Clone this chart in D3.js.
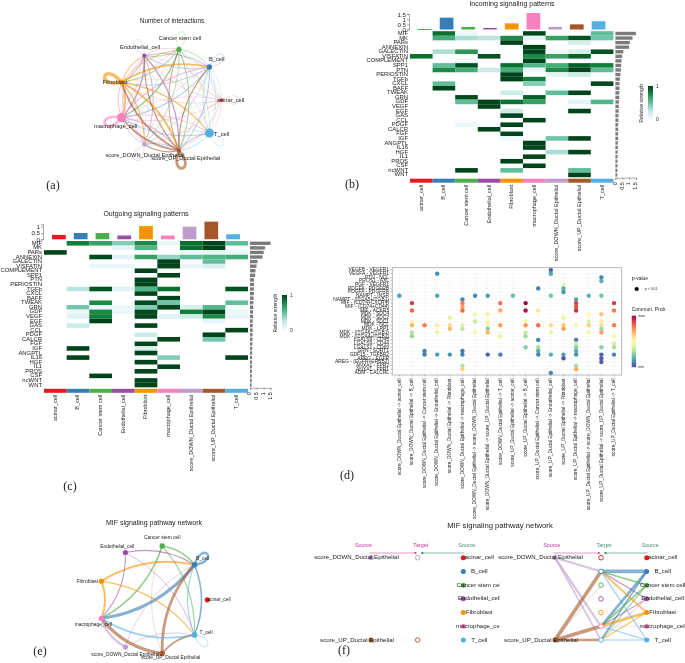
<!DOCTYPE html>
<html><head><meta charset="utf-8">
<script src="https://cdn.jsdelivr.net/npm/d3@7"></script>
<style>html,body{margin:0;padding:0;background:#fff}svg{display:block;filter:blur(.3px)}text{font-family:"Liberation Sans",Arial,sans-serif;fill:#222}</style>
</head><body><svg id="c" width="685" height="663"></svg>
<script>
const cellTypes=["acinar_cell","B_cell","Cancer stem cell","Endothelial_cell","Fibroblast","macrophage_cell","score_DOWN_Ductal Epithelial","score_UP_Ductal Epithelial","T_cell"];
const cellColors=["#E41A1C","#377EB8","#4DAF4A","#984EA3","#F29403","#F781BF","#BC9DCC","#A65628","#54B0E4"];
const pathways=["MIF","MK","PARs","ANNEXIN","GALECTIN","VISFATIN","COMPLEMENT","SPP1","PTN","PERIOSTIN","TGFb","CXCL","BAFF","TWEAK","GRN","GDF","VEGF","EGF","GAS","CCL","PDGF","CALCR","FGF","IGF","ANGPTL","IL16","HGF","IL1","PROS","CSF","ncWNT","WNT"];

const incomingMatrix=[
[0,.85,.03,0,0,1,0,0,.5],[0,.6,.3,.25,.75,.05,.65,.95,.45],[0,0,0,0,1,0,0,.15,0],[0,0,0,0,0,1,0,0,0],
[0,.3,.7,0,0,1,.03,.15,.95],[.85,0,0,.95,0,.75,.65,.9,0],[0,0,.02,0,0,1,0,0,0],[0,.5,.95,0,.85,.55,.6,.9,.8],
[0,.75,.6,.2,.6,.03,.75,1,.5],[0,0,0,0,1,0,.08,.2,0],[0,0,0,0,1,.8,0,0,0],[0,.5,0,0,0,.4,0,0,.98],
[0,1,0,0,0,0,0,0,0],[0,0,0,0,.2,0,.5,1,0],[0,0,.98,0,0,.9,0,0,0],[0,0,.5,1,.85,.65,0,.1,.55],
[0,0,0,1,0,0,0,0,0],[0,0,0,0,.2,0,0,1,0],[0,0,0,0,1,0,0,0,0],[0,0,0,0,0,1,0,0,0],
[0,0,.03,0,1,0,0,0,0],[0,0,0,1,0,0,0,0,0],[0,0,0,0,1,0,0,0,0],[0,0,0,0,.01,0,.45,1,0],
[0,0,0,0,0,1,0,0,0],[0,0,0,0,0,1,0,0,0],[0,0,0,0,0,0,.3,1,0],[0,0,0,0,0,1,0,0,0],
[0,0,0,0,1,0,0,0,0],[0,0,0,0,0,1,0,0,0],[0,0,1,0,.5,0,0,.5,0],[0,0,0,0,0,0,0,1,0]];
const incomingTop=[.03,1.15,.25,.15,.6,1.6,.25,.5,.8];
const incomingRight=[1.5,1.25,1.05,1,.58,.5,.45,.42,.4,.37,.33,.3,.3,.28,.28,.26,.25,.24,.22,.22,.2,.2,.2,.2,.18,.18,.16,.16,.15,.15,.15,.14];

const outgoingMatrix=[
[0,.8,.65,.4,.75,.03,.85,1,.5],[0,0,0,.07,.55,0,.85,1,0],[1,0,0,0,0,0,.02,.04,.03],[0,0,.98,.1,.65,.35,.5,.55,.6],
[0,0,0,0,0,1,0,.5,0],[0,0,.03,.05,0,1,.05,.15,0],[0,0,0,0,1,0,0,0,0],[0,0,0,0,0,1,0,0,0],
[0,0,0,0,1,0,0,0,0],[0,0,0,0,1,0,0,0,0],[0,.25,.95,.1,.55,.85,0,0,.95],[0,0,0,0,1,0,0,0,0],
[0,0,0,0,0,1,0,0,0],[0,0,.75,0,.98,.45,0,0,.5],[0,.45,.05,.03,.4,1,.15,.55,0],[0,.03,.75,.03,.98,0,.8,1,.03],
[0,.1,.8,0,1,.1,.2,.75,.05],[0,0,1,0,0,0,0,.05,0],[0,.2,0,0,1,0,0,0,0],[0,0,0,0,0,0,0,0,1],
[0,0,0,0,.2,0,0,1,0],[0,0,0,0,0,1,0,.45,0],[0,0,0,0,1,0,0,0,0],[0,1,0,0,.15,0,0,0,0],
[0,0,0,0,1,0,0,0,0],[0,1,0,0,0,.4,0,0,1],[0,0,0,0,1,0,0,0,0],[0,0,0,0,0,1,0,0,0],
[0,0,0,0,1,0,0,0,0],[0,0,1,0,0,0,0,0,0],[0,0,0,0,1,0,0,0,0],[0,0,0,0,1,0,0,0,0]];
const outgoingTop=[.35,.5,.5,.3,1.05,.3,1,1.4,.4];
const outgoingRight=[1.5,1.1,1,.92,.55,.48,.4,.38,.3,.3,.28,.28,.26,.25,.24,.22,.22,.2,.2,.2,.18,.18,.17,.16,.16,.15,.15,.14,.14,.13,.13,.12];

const ligandReceptors=["VEGFB - VEGFR1","VEGFA - VEGFR1","PTN - NCL","PROS1 - AXL","PGF - VEGFR1","PDGFA - PDGFRB","PDGFA - PDGFRA","NAMPT - INSR","NAMPT - (ITGA5+ITGB1)","MIF - (CD74+CXCR4)","MIF - (CD74+CD44)","MIF - ACKR3","MDK - SDC4","MDK - SDC2","MDK - SDC1","MDK - NCL","MDK - LRP1","MDK - (ITGA6+ITGB1)","MDK - (ITGA4+ITGB1)","LGALS9 - CD45","LGALS9 - CD44","LGALS1 - CD69","GRN - SORT1","GDF15 - TGFBR2","AREG - EGFR","AREG - (EGFR+ERBB2)","ANXA1 - FPR2","ANXA1 - FPR1","ADM - CALCRL"];
const cellPairs=[6,7].flatMap(s=>cellTypes.map(t=>cellTypes[s]+" -> "+t));
/* [row, column, communication probability 0..1] */
const dotData=[[1,3,.12],[0,12,.05],[1,12,.15],[2,16,.1],[3,16,.17],[4,13,.42],[5,13,.17],[6,13,.12],[5,11,.08],
[7,0,.14],[7,3,.15],[7,6,.1],[7,7,.14],[7,9,.2],[7,12,.22],[7,15,.18],[7,16,.22],[8,5,.1],[8,14,.15],
[9,1,.9],[9,5,.78],[9,8,.8],[9,10,1],[9,14,.9],[9,17,.9],[10,5,.72],[10,14,.85],
[11,1,.82],[11,5,.8],[11,8,.7],[11,10,.97],[11,11,.58],[11,14,.92],[11,17,.78],
[12,6,.45],[12,7,.55],[12,15,.5],[12,16,.65],[13,4,.4],[13,13,.42],
[14,1,.5],[14,6,.35],[14,7,.52],[14,10,.52],[14,15,.4],[14,16,.55],
[15,1,.68],[15,2,.78],[15,3,.55],[15,4,.6],[15,5,.42],[15,7,.55],[15,8,.72],[15,10,.73],[15,11,.8],[15,12,.6],[15,13,.65],[15,14,.45],[15,15,.62],[15,16,.6],[15,17,.78],
[16,4,.68],[16,5,.33],[16,7,.25],[16,13,.72],[16,16,.28],
[17,1,.32],[17,3,.42],[17,6,.45],[17,7,.68],[17,10,.35],[17,12,.42],[17,15,.45],[17,16,.72],
[18,1,.28],[18,8,.42],[18,10,.3],[18,17,.45],[19,11,.1],[19,14,.08],[20,14,.38],[20,17,.38],
[21,10,.25],[21,11,.3],[21,14,.25],[21,16,.25],[21,17,.3],[22,2,.08],[22,5,.08],[22,11,.17],[22,14,.17],
[23,2,.08],[23,3,.14],[23,4,.12],[23,5,.1],[23,7,.03],[23,8,.08],[23,11,.1],[23,12,.17],[23,13,.15],[23,14,.12],[23,16,.03],[23,17,.1],
[24,13,0],[24,16,.03],[25,16,.03],[26,5,.32],[26,14,.3],[27,5,.62],[27,14,.7],[28,12,.1]];

const interactionWeights=[
[.03,.05,.05,.05,.05,.1,.05,.1,.1],[.1,.15,.15,.2,.2,.3,.15,.25,.1],[.08,.25,.15,.3,.35,.5,.25,.35,.12],
[.08,.25,.15,.12,.35,.45,.25,.45,.08],[.12,.7,.35,.4,1.35,.7,.45,.8,.45],[.15,.4,.25,.25,.35,1,.3,.4,.25],
[.08,.2,.15,.2,.25,.35,.25,.4,.12],[.15,.45,.35,.45,.65,.65,.45,1.1,.25],[.08,.2,.08,.08,.15,.35,.12,.25,.15]];
const interactionNodeSize=[1.6,2.6,2.6,2,2.6,4.7,2,2,4.5];

/* [source, target, weight] for MIF */
const mifEdges=[[1,1,.75],[1,5,1],[1,8,.5],[2,1,.5],[2,5,.5],[2,8,.33],[3,1,.33],[3,5,.33],[3,8,.2],[4,1,.65],[4,5,.65],[4,8,.33],[5,5,.1],[6,1,.25],[6,5,.7],[6,8,.25],[7,1,.85],[7,5,1],[7,8,.5],[7,2,.1],[8,1,.33],[8,5,.5],[8,8,.2]];
const mifNodeSize=[2.6,2.8,2.7,2.6,2.6,2.6,2.6,2.7,2.8];

const svg=d3.select("#c");
function txt(g,x,y,s,size,opt={}){
  const t=g.append("text").attr("x",x).attr("y",y).attr("font-size",size).attr("text-anchor",opt.anchor||"middle").attr("dominant-baseline","middle").text(s);
  if(opt.rot!=null)t.attr("transform",`rotate(${opt.rot} ${x} ${y})`);
  if(opt.color)t.style("fill",opt.color);
  if(opt.serif)t.style("font-family",'"Liberation Serif",serif');
  return t;
}
// gradients
const defs=svg.append("defs");
function gradient(id,fn){
  const g=defs.append("linearGradient").attr("id",id).attr("x1",0).attr("x2",0).attr("y1",1).attr("y2",0);
  d3.range(0,1.001,.1).forEach(v=>g.append("stop").attr("offset",v).attr("stop-color",fn(v)));
}
gradient("gBuGn",v=>v==0?"#fff":d3.interpolateBuGn(v));
gradient("gSpec",v=>d3.interpolateSpectral(1-v));

function heat(o){
  const g=svg.append("g");
  const x=d3.scaleBand().domain(cellTypes).range([o.x0,o.x1]);
  const y=d3.scaleBand().domain(pathways).range([o.y0,o.y1]);
  const col=v=>d3.interpolateBuGn(.05+.95*v);
  txt(g,o.titleX,o.titleY,o.title,7);
  o.matrix.forEach((row,r)=>row.forEach((v,c)=>{ if(v>0)
    g.append("rect").attr("x",x(cellTypes[c])).attr("y",y(pathways[r])).attr("width",x.bandwidth()).attr("height",y.bandwidth()).attr("fill",v>=.99?"#00441b":col(v));
  }));
  pathways.forEach(p=>txt(g,o.x0-2,y(p)+y.bandwidth()/2,p,5.9,{anchor:"end"}));
  // top bars
  const tx=d3.scaleBand().domain(cellTypes).range([o.x0,o.x1]).padding(.37);
  const ty=d3.scaleLinear().domain([0,1.5]).range([o.topBase,o.topBase-o.topUnit*1.5]);
  o.top.forEach((v,i)=>g.append("rect").attr("x",tx(cellTypes[i])).attr("y",ty(v)).attr("width",tx.bandwidth()).attr("height",Math.max(.7,ty(0)-ty(v))).attr("fill",cellColors[i]));
  const axL=g.append("g").attr("transform",`translate(${o.x0-1},0)`).call(d3.axisLeft(ty.copy().domain([0,o.topMax]).range([o.topBase,o.topBase-o.topUnit*o.topMax])).tickValues(o.topTicks).tickFormat(d=>d).tickSize(2).tickPadding(1));
  axL.selectAll("text").attr("font-size",6.2).style("font-family",'"Liberation Sans"');
  axL.selectAll("path,line").attr("stroke","#555").attr("stroke-width",.5);
  // bottom colour bar
  cellTypes.forEach((c,i)=>g.append("rect").attr("x",x(c)).attr("y",o.y1+1.5).attr("width",x.bandwidth()).attr("height",4).attr("fill",cellColors[i]));
  cellTypes.forEach(c=>txt(g,x(c)+x.bandwidth()/2,o.y1+7.5,c,5.5,{anchor:"end",rot:-90}));
  // right bars
  const rx=d3.scaleLinear().domain([0,1.5]).range([o.x1+2,o.x1+2+20.5]);
  o.right.forEach((v,i)=>g.append("rect").attr("x",rx(0)).attr("y",y(pathways[i])+.6).attr("width",rx(v)-rx(0)).attr("height",y.bandwidth()-1.2).attr("fill","#7b7b7b"));
  const axB=g.append("g").attr("transform",`translate(0,${o.y1+.5})`).call(d3.axisBottom(rx).tickValues([0,.5,1,1.5]).tickFormat(d=>d).tickSize(2).tickPadding(1));
  axB.selectAll("path,line").attr("stroke","#555").attr("stroke-width",.5);
  axB.selectAll("text").remove();
  [0,.5,1,1.5].forEach(v=>txt(g,rx(v),o.y1+5,String(v),5.4,{anchor:"end",rot:-90}));
  // legend
  g.append("rect").attr("x",o.lx).attr("y",o.ly0).attr("width",5).attr("height",o.ly1-o.ly0).attr("fill","url(#gBuGn)");
  txt(g,o.lx+8,o.ly0+1,"1",4.8,{anchor:"start"});
  txt(g,o.lx+8,o.ly1-.5,"0",4.8,{anchor:"start"});
  txt(g,o.lx-6,(o.ly0+o.ly1)/2,"Relative strength",5.2,{rot:-90});
}
heat({title:"Incoming signaling patterns",titleX:512,titleY:4.5,matrix:incomingMatrix,top:incomingTop,right:incomingRight,
  x0:410,x1:613.4,y0:31.2,y1:177.2,topBase:29.5,topUnit:10.3,topMax:1.5,topTicks:[0,.5,1,1.5],lx:648,ly0:86,ly1:120.5});
heat({title:"Outgoing signaling patterns",titleX:146,titleY:214.5,matrix:outgoingMatrix,top:outgoingTop,right:outgoingRight,
  x0:44,x1:248,y0:241,y1:387.3,topBase:239.3,topUnit:12.6,topMax:1.2,topTicks:[0,.5,1],lx:282,ly0:295,ly1:331});

// networks
function network(o){
  const g=svg.append("g");
  const ang=i=>i*40*Math.PI/180;
  const pos=i=>[o.cx+o.r*Math.cos(ang(i)),o.cy-o.r*Math.sin(ang(i))];
  const edgePath=(s,t)=>{
    const [x1,y1]=pos(s),[x2,y2]=pos(t);
    if(s===t){
      const a=ang(s),L=o.loop,d=.55;
      const c1=[x1+L*Math.cos(a+d),y1-L*Math.sin(a+d)],c2=[x1+L*Math.cos(a-d),y1-L*Math.sin(a-d)];
      const p=d3.path();p.moveTo(x1,y1);p.bezierCurveTo(c1[0],c1[1],c2[0],c2[1],x1,y1);return p.toString();
    }
    const p=d3.path();p.moveTo(x1,y1);
    p.quadraticCurveTo((x1+x2)/2+.2*(y2-y1),(y1+y2)/2-.2*(x2-x1),x2,y2);return p.toString();
  };
  g.selectAll("path").data(o.edges).join("path").attr("d",d=>edgePath(d[0],d[1])).attr("fill","none")
    .attr("stroke",d=>cellColors[d[0]]).attr("stroke-opacity",.6).attr("stroke-width",d=>Math.max(.25,d[2]*o.w));
  cellTypes.forEach((c,i)=>{const [x,y]=pos(i);g.append("circle").attr("cx",x).attr("cy",y).attr("r",o.size[i]).attr("fill",cellColors[i]);});
  cellTypes.forEach((c,i)=>{const [x,y]=o.labels[i];txt(g,x,y,c,o.font);});
  txt(g,o.tx,o.ty,o.title,o.tfont);
}
const interactionEdges=interactionWeights.flatMap((r,s)=>r.map((w,t)=>[s,t,w]));
network({cx:170,cy:100,r:51.5,loop:28,w:2.6,edges:interactionEdges,size:interactionNodeSize,font:5.7,title:"Number of interactions",tx:172,ty:21,tfont:6.4,
  labels:[[230.7,100],[216.7,59],[180,38],[140,47],[115,82],[115.7,126],[145,155],[185.7,158.5],[221.7,134]]});
network({cx:152.7,cy:599.8,r:54.6,loop:26,w:3.2,edges:mifEdges,size:mifNodeSize,font:4.9,title:"MIF signaling pathway network",tx:154,ty:522.7,tfont:7,
  labels:[[219,599.3],[202.7,558.3],[162.3,538],[117.3,546.7],[87.3,582],[93.3,625],[125.3,655],[170.7,658],[206,633]]});

// panel d
(function(){
  const g=svg.append("g");
  const L=392.3,R=621.7,T=267.7,B=375;
  const x=d3.scalePoint().domain(cellPairs).range([399.3,614]);
  const y=d3.scalePoint().domain(ligandReceptors).range([270,373]);
  cellPairs.forEach(c=>g.append("line").attr("x1",x(c)).attr("x2",x(c)).attr("y1",T).attr("y2",B).attr("stroke","#efefef").attr("stroke-width",.4));
  ligandReceptors.forEach(c=>g.append("line").attr("x1",L).attr("x2",R).attr("y1",y(c)).attr("y2",y(c)).attr("stroke","#efefef").attr("stroke-width",.4));
  g.selectAll("circle").data(dotData).join("circle").attr("cx",d=>x(cellPairs[d[1]])).attr("cy",d=>y(ligandReceptors[d[0]])).attr("r",2.2).attr("fill",d=>d3.interpolateSpectral(1-d[2]));
  g.append("rect").attr("x",L).attr("y",T).attr("width",R-L).attr("height",B-T).attr("fill","none").attr("stroke","#aaa").attr("stroke-width",.8);
  ligandReceptors.forEach(c=>{txt(g,389,y(c),c,4.9,{anchor:"end"});g.append("line").attr("x1",390.5).attr("x2",392).attr("y1",y(c)).attr("y2",y(c)).attr("stroke","#666").attr("stroke-width",.4);});
  cellPairs.forEach(c=>{txt(g,x(c),378.5,c,4.8,{anchor:"end",rot:-90});g.append("line").attr("x1",x(c)).attr("x2",x(c)).attr("y1",375).attr("y2",376.5).attr("stroke","#666").attr("stroke-width",.4);});
  txt(g,631.7,278.5,"p-value",5,{anchor:"start"});
  g.append("circle").attr("cx",636.7).attr("cy",289).attr("r",2.1).attr("fill","#000");
  txt(g,645,289.3,"p < 0.01",3.4,{anchor:"start"});
  txt(g,631.7,310,"Commun. Prob.",5,{anchor:"start"});
  g.append("rect").attr("x",631.7).attr("y",315.7).attr("width",4.4).attr("height",51.5).attr("fill","url(#gSpec)");
  txt(g,638.5,316,"max",3.4,{anchor:"start"});
  txt(g,638.5,367,"min",3.4,{anchor:"start"});
})();

// panel f
const hierEdgesLeft=[[6,1,.6],[6,5,.6],[6,8,.45],[7,1,1],[7,5,1],[7,8,.7],[7,2,.12]];
const hierEdgesRight=[[1,1,1],[1,5,.75],[1,8,.45],[2,1,.45],[2,5,.5],[2,8,.3],[3,1,.33],[3,5,.3],[3,8,.15],[4,1,.5],[4,5,.75],[4,8,.3],[8,1,.33],[8,5,.3],[8,8,.33],[5,5,.1]];
const hierRows=[0,1,2,3,4,5,8];
(function(){
  const g=svg.append("g");
  txt(g,500,525.7,"MIF signaling pathway network",7.7);
  defs.append("clipPath").attr("id","clipL").append("rect").attr("x",0).attr("y",530).attr("width",499.5).attr("height",133);
  const y=d3.scalePoint().domain(hierRows).range([557.7,640]);
  const rowY=i=>y(i);
  function panel(xs,xt,xr,srcLabelC,active,clip){
    const p=g.append("g");
    const ly=d=>d===6?rowY(0):d===7?rowY(8):rowY(d);
    if(active){
      [...hierEdgesRight].forEach(e=>p.append("line").attr("x1",xr).attr("y1",rowY(e[0])).attr("x2",xt).attr("y2",rowY(e[1])).attr("stroke",cellColors[e[0]]).attr("stroke-opacity",.6).attr("stroke-width",Math.max(.3,e[2]*3.6)));
      hierEdgesLeft.forEach(e=>p.append("line").attr("x1",xs).attr("y1",ly(e[0])).attr("x2",xt).attr("y2",rowY(e[1])).attr("stroke",cellColors[e[0]]).attr("stroke-opacity",.6).attr("stroke-width",Math.max(.3,e[2]*3.6)));
    }
    // arrows
    p.append("line").attr("x1",xs-2).attr("x2",xt-1.5).attr("y1",553).attr("y2",553).attr("stroke","#D86EB0").attr("stroke-width",.7);
    p.append("path").attr("d",d3.line()([[xt-3,551.8],[xt-.5,553],[xt-3,554.2]])).attr("fill","#C2349A");
    p.append("line").attr("x1",xr+1).attr("x2",xt+3).attr("y1",553).attr("y2",553).attr("stroke","#5E9C90").attr("stroke-width",.7);
    p.append("path").attr("d",d3.line()([[xt+5.5,551.8],[xt+3,553],[xt+5.5,554.2]])).attr("fill","#2F7A6C");
    txt(p,srcLabelC,546,"Source",5.4,{color:"#C2349A"});
    txt(p,xt+3,545.5,"Target",5.4,{color:active?"#4D8A80":"#C2349A"});
    txt(p,xr+3.5,546,"Source",5.4,{color:"#4D8A80"});
    // left nodes
    p.append("circle").attr("cx",xs).attr("cy",rowY(0)).attr("r",2.5).attr("fill",cellColors[6]);
    p.append("circle").attr("cx",xs).attr("cy",rowY(8)).attr("r",2.5).attr("fill",cellColors[7]);
    txt(p,xs-14.5,rowY(0),cellTypes[6],6.1);
    txt(p,xs-14,rowY(8),cellTypes[7],6.1);
    // targets
    const targets=active?hierRows:[6,7];
    targets.forEach(t=>{
      const yy=t===6?rowY(0):t===7?rowY(8):rowY(t);
      p.append("circle").attr("cx",xt).attr("cy",yy).attr("r",2.3).attr("fill","#fff").attr("stroke",cellColors[t]).attr("stroke-width",.9);
    });
    // right sources
    hierRows.forEach(t=>p.append("circle").attr("cx",xr).attr("cy",rowY(t)).attr("r",2.5).attr("fill",cellColors[t]));
    hierRows.forEach(t=>{const l=txt(p,xr+16,rowY(t),cellTypes[t],6.1);if(clip)l.attr("clip-path","url(#clipL)");});
  }
  panel(371,417.7,463.3,363.5,false,true);
  panel(555,601,646.7,551.7,true,false);
})();

// panel letters
[["(a)",53,186],["(b)",352,185],["(c)",70,487],["(d)",347,476],["(e)",40,652],["(f)",344,651.5]].forEach(d=>txt(svg,d[1],d[2],d[0],12,{serif:true}));
</script></body></html>
